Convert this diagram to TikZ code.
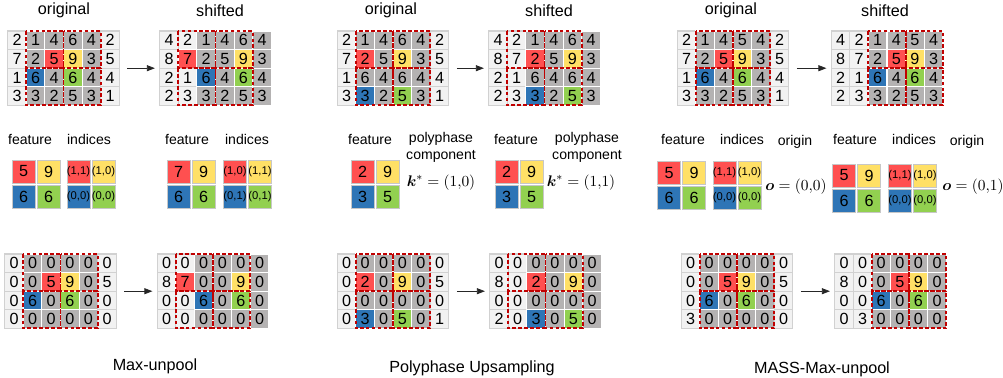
\documentclass[tikz,border=0pt]{standalone}
\usepackage{amsmath,amssymb}
\usepackage[no-math]{fontspec}
\setmainfont{Liberation Sans}
\usepackage{tikz}
\usetikzlibrary{arrows.meta}

\definecolor{coll}{HTML}{F2F2F2}
\definecolor{colg}{HTML}{B4B2B2}
\definecolor{colr}{HTML}{FF5050}
\definecolor{coly}{HTML}{FFE066}
\definecolor{colb}{HTML}{2E75B6}
\definecolor{coln}{HTML}{92D050}
\colorlet{edgel}{black!18}
\colorlet{edgeg}{white}
\colorlet{edger}{white}
\colorlet{edgey}{white}
\colorlet{edgeb}{white}
\colorlet{edgen}{white}
\definecolor{poolred}{HTML}{C00000}

\tikzset{
  cell/.style={minimum size=4.65mm,inner sep=0pt,outer sep=0pt,line width=0.8pt,
    font=\fontsize{11.5}{12}\selectfont},
  fcell/.style={minimum size=5.8mm,inner sep=0pt,outer sep=0pt,draw=black!22,
    line width=0.4pt,font=\fontsize{11.5}{12}\selectfont},
  icell/.style={fcell,font=\fontsize{8}{9}\selectfont},
  pool/.style={draw=poolred,line width=1.4pt,dash pattern=on 2.6pt off 1.6pt},
  toplbl/.style={font=\fontsize{11.5}{13}\selectfont},
  sublbl/.style={font=\fontsize{10}{12}\selectfont,align=center},
  mathlbl/.style={font=\fontsize{11}{13}\selectfont},
  botlbl/.style={font=\fontsize{11.5}{13}\selectfont},
  arr/.style={-{Triangle[length=2mm,width=1.5mm]},line width=0.5pt,black!85,
    shorten <=2mm,shorten >=1.2mm},
}

% #1 name, #2 style, #3 pitch, #4 x, #5 y (top left), #6 rows of value/colour
\newcommand\cellgrid[6]{%
  \foreach \row [count=\ri] in {#6}
    \foreach \val/\sty [count=\ci] in \row
      \node[fill=col\sty,draw=edge\sty,#2] (#1-\ri-\ci)
        at ({#4+(\ci-0.5)*#3},{#5+(\ri-0.5)*#3}) {\val};
}
% #1 grid name, #2 column pairs of the pooling windows
\newcommand\poolboxes[2]{%
  \foreach \ca/\cb in {#2}
    \foreach \ra/\rb in {1/2,3/4}
      \draw[pool] (#1-\ra-\ca.north west) rectangle (#1-\rb-\cb.south east);
}

\begin{document}
\begin{tikzpicture}[x=0.25mm,y=-0.25mm]%
  \path[use as bounding box] (0,0) rectangle (1003,377);

  % Max-unpool
  \cellgrid{mo}{cell}{18.6}{7.7}{31}{{2/l,1/g,4/g,6/g,4/g,2/l},%
    {7/l,2/g,5/r,9/y,3/g,5/l},{1/l,6/b,4/g,6/n,4/g,4/l},{3/l,3/g,2/g,5/g,3/g,1/l}}
  \cellgrid{ms}{cell}{18.6}{159.7}{31}{{4/l,2/l,1/g,4/g,6/g,4/g},%
    {8/l,7/r,2/g,5/g,9/y,3/g},{2/l,1/l,6/b,4/g,6/n,4/g},{2/l,3/l,3/g,2/g,5/g,3/g}}
  \cellgrid{mbo}{cell}{18.6}{4.7}{254}{{0/l,0/g,0/g,0/g,0/g,0/l},%
    {0/l,0/g,5/r,9/y,0/g,5/l},{0/l,6/b,0/g,6/n,0/g,0/l},{0/l,0/g,0/g,0/g,0/g,0/l}}
  \cellgrid{mbs}{cell}{18.6}{157.2}{254}{{0/l,0/l,0/g,0/g,0/g,0/g},%
    {8/l,7/r,0/g,0/g,9/y,0/g},{0/l,0/l,6/b,0/g,6/n,0/g},{0/l,0/l,0/g,0/g,0/g,0/g}}
  \cellgrid{mf}{fcell}{25}{11}{159}{{5/r,9/y},{6/b,6/n}}
  \cellgrid{mi}{icell}{25}{66}{159}{{{(1,1)}/r,{(1,0)}/y},{{(0,0)}/b,{(0,0)}/n}}
  \cellgrid{msf}{fcell}{25}{166}{159}{{7/r,9/y},{6/b,6/n}}
  \cellgrid{msi}{icell}{25}{222.5}{159}{{{(1,0)}/r,{(1,1)}/y},{{(0,1)}/b,{(0,1)}/n}}
  \poolboxes{mo}{2/3,4/5}
  \poolboxes{ms}{2/3,4/5}
  \poolboxes{mbo}{2/3,4/5}
  \poolboxes{mbs}{2/3,4/5}
  \draw[arr] (mo-2-6.south east) -- (ms-2-1.south west);
  \draw[arr] (mbo-2-6.south east) -- (mbs-2-1.south west);
  \node[toplbl] (mot) at (64,10.5) {original};
  \node[toplbl] (mst) at (220,10.5) {shifted};
  \node[sublbl] (mfl) at (30,139) {feature};
  \node[sublbl] (mil) at (89,139) {indices};
  \node[sublbl] (msfl) at (187,139) {feature};
  \node[sublbl] (msil) at (247,139) {indices};
  \node[botlbl] (mname) at (155,366.5) {Max-unpool};

  % Polyphase Upsampling
  \cellgrid{po}{cell}{18.6}{337.2}{31}{{2/l,1/g,4/g,6/g,4/g,2/l},%
    {7/l,2/r,5/g,9/y,3/g,5/l},{1/l,6/g,4/g,6/g,4/g,4/l},{3/l,3/b,2/g,5/n,3/g,1/l}}
  \cellgrid{ps}{cell}{18.6}{488.7}{31}{{4/l,2/l,1/g,4/g,6/g,4/g},%
    {8/l,7/l,2/r,5/g,9/y,3/g},{2/l,1/l,6/g,4/g,6/g,4/g},{2/l,3/l,3/b,2/g,5/n,3/g}}
  \cellgrid{pbo}{cell}{18.6}{337.2}{254}{{0/l,0/g,0/g,0/g,0/g,0/l},%
    {0/l,2/r,0/g,9/y,0/g,5/l},{0/l,0/g,0/g,0/g,0/g,0/l},{0/l,3/b,0/g,5/n,0/g,1/l}}
  \cellgrid{pbs}{cell}{18.6}{489.7}{254}{{0/l,0/l,0/g,0/g,0/g,0/g},%
    {8/l,0/l,2/r,0/g,9/y,0/g},{0/l,0/l,0/g,0/g,0/g,0/g},{2/l,0/l,3/b,0/g,5/n,0/g}}
  \cellgrid{pf}{fcell}{25}{350}{159.5}{{2/r,9/y},{3/b,5/n}}
  \cellgrid{psf}{fcell}{25}{494}{159.5}{{2/r,9/y},{3/b,5/n}}
  \poolboxes{po}{2/3,4/5}
  \poolboxes{ps}{2/3,4/5}
  \poolboxes{pbo}{2/3,4/5}
  \poolboxes{pbs}{2/3,4/5}
  \draw[arr] (po-2-6.south east) -- (ps-2-1.south west);
  \draw[arr] (pbo-2-6.south east) -- (pbs-2-1.south west);
  \node[toplbl] (pot) at (391,10.5) {original};
  \node[toplbl] (pst) at (549,10.5) {shifted};
  \node[sublbl] (pfl) at (370,139) {feature};
  \node[sublbl] (pcl) at (441,147.5) {polyphase\\component};
  \node[sublbl] (psfl) at (516,139) {feature};
  \node[sublbl] (pscl) at (587,147.5) {polyphase\\component};
  \node[mathlbl] (pk) at (441,183) {$\boldsymbol{k}^{*}=(1{,}0)$};
  \node[mathlbl] (psk) at (581,183) {$\boldsymbol{k}^{*}=(1{,}1)$};
  \node[botlbl] (pname) at (472,368.5) {Polyphase Upsampling};

  % MASS-Max-unpool
  \cellgrid{so}{cell}{18.6}{677.2}{31}{{2/l,1/g,4/g,5/g,4/g,2/l},%
    {7/l,2/g,5/r,9/y,3/g,5/l},{1/l,6/b,4/g,6/n,4/g,4/l},{3/l,3/g,2/g,5/g,3/g,1/l}}
  \cellgrid{ss}{cell}{18.6}{831.2}{31}{{4/l,2/l,1/g,4/g,5/g,4/g},%
    {8/l,7/l,2/g,5/r,9/y,3/g},{2/l,1/l,6/b,4/g,6/n,4/g},{2/l,3/l,3/g,2/g,5/g,3/g}}
  \cellgrid{sbo}{cell}{18.6}{681.2}{254}{{0/l,0/g,0/g,0/g,0/g,0/l},%
    {0/l,0/g,5/r,9/y,0/g,5/l},{0/l,6/b,0/g,6/n,0/g,0/l},{3/l,0/g,0/g,0/g,0/g,0/l}}
  \cellgrid{sbs}{cell}{18.6}{834.7}{254}{{0/l,0/l,0/g,0/g,0/g,0/g},%
    {8/l,0/l,0/g,5/r,9/y,0/g},{0/l,0/l,6/b,0/g,6/n,0/g},{0/l,3/l,0/g,0/g,0/g,0/g}}
  \cellgrid{sf}{fcell}{25}{656.5}{160.5}{{5/r,9/y},{6/b,6/n}}
  \cellgrid{si}{icell}{25}{712}{160.5}{{{(1,1)}/r,{(1,0)}/y},{{(0,0)}/b,{(0,0)}/n}}
  \cellgrid{ssf}{fcell}{25}{831.5}{163}{{5/r,9/y},{6/b,6/n}}
  \cellgrid{ssi}{icell}{25}{887.5}{163.5}{{{(1,1)}/r,{(1,0)}/y},{{(0,0)}/b,{(0,0)}/n}}
  \poolboxes{so}{2/3,4/5}
  \poolboxes{ss}{3/4,5/6}
  \poolboxes{sbo}{2/3,4/5}
  \poolboxes{sbs}{3/4,5/6}
  \draw[arr] (so-2-6.south east) -- (ss-2-1.south west);
  \draw[arr] (sbo-2-6.south east) -- (sbs-2-1.south west);
  \node[toplbl] (sot) at (731,10.5) {original};
  \node[toplbl] (sst) at (885,10.5) {shifted};
  \node[sublbl] (sfl) at (683,139) {feature};
  \node[sublbl] (sil) at (742,139) {indices};
  \node[sublbl] (sol) at (795,141.5) {origin};
  \node[sublbl] (ssfl) at (855,139) {feature};
  \node[sublbl] (ssil) at (914,139) {indices};
  \node[sublbl] (ssol) at (967,141.5) {origin};
  \node[mathlbl] (so0) at (796,187) {$\boldsymbol{o}=(0{,}0)$};
  \node[mathlbl] (sso) at (973,187) {$\boldsymbol{o}=(0{,}1)$};
  \node[botlbl] (sname) at (822,369) {MASS-Max-unpool};
\end{tikzpicture}
\end{document}
